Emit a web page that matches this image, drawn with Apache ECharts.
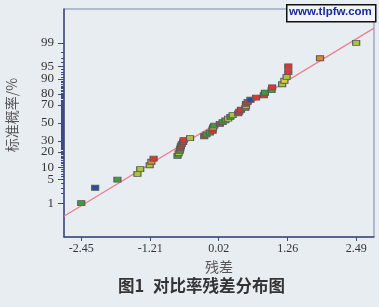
<!DOCTYPE html>
<html>
<head>
<meta charset="utf-8">
<script src="https://cdn.jsdelivr.net/npm/echarts@6/dist/echarts.min.js"></script>
<style>
html,body{margin:0;padding:0;background:#e8edf2;}
#chart{width:379px;height:307px;}
</style>
</head>
<body>
<div id="chart"></div>
<script>
// Residuals (sorted)
const residuals = [-2.45,-2.20,-1.80,-1.44,-1.39,-1.22,-1.19,-1.15,-0.72,-0.70,
  -0.68,-0.67,-0.66,-0.645,-0.62,-0.61,-0.495,-0.24,-0.20,-0.14,
  -0.09,-0.09,-0.08,-0.06,0.04,0.09,0.14,0.19,0.23,0.27,
  0.37,0.39,0.42,0.50,0.51,0.51,0.54,0.59,0.69,0.83,
  0.85,0.97,0.98,1.16,1.20,1.24,1.27,1.27,1.84,2.49];
// Normal probability (%) of each point
const probabilities = [1,3,5,7,9,11,13,15,17,19,21,23,25,27,29,31,33,35,37,39,
  41,43,45,47,49,51,53,55,57,59,61,63,65,67,69,71,73,75,77,79,
  81,83,85,87,89,91,93,95,97,99];
// Colour group of each point
const pointGroups = ['g','b','g','y','y','y','o','r','g','y','g','r','r','r','r','r','y','r','g','g',
  'r','r','k','g','r','g','g','k','g','y','r','r','r','g','y','r','r','b','r','r',
  'g','g','r','y','k','y','r','r','o','y'];
const groupColors = {r:'#e0362c', g:'#3c9e3c', y:'#a9c43c', k:'#d9cf45', o:'#d98a3a', b:'#274f9e'};
// Axis ticks
const xTickLabels = [-2.45, -1.21, 0.02, 1.26, 2.49];
const yTickLabels = [1, 5, 10, 20, 30, 50, 70, 80, 90, 95, 99];
const yMinorTicks = []; for (let p = 1; p <= 99; p++) yMinorTicks.push(p);
// Fitted normal line
const fitMean = 0.0, fitSd = 1.02;
const xMin = -2.76, xMax = 2.81, zLim = 3.31;

function probit(pp) {
  const p = pp / 100;
  const a = [-3.969683028665376e+01, 2.209460984245205e+02, -2.759285104469687e+02, 1.383577518672690e+02, -3.066479806614716e+01, 2.506628277459239e+00];
  const b = [-5.447609879822406e+01, 1.615858368580409e+02, -1.556989798598866e+02, 6.680131188771972e+01, -1.328068155288572e+01];
  const c = [-7.784894002430293e-03, -3.223964580411365e-01, -2.400758277161838e+00, -2.549732539343734e+00, 4.374664141464968e+00, 2.938163982698783e+00];
  const d = [7.784695709041462e-03, 3.224671290700398e-01, 2.445134137142996e+00, 3.754408661907416e+00];
  const pl = 0.02425, ph = 1 - pl;
  let q, r;
  if (p < pl) { q = Math.sqrt(-2 * Math.log(p)); return (((((c[0]*q+c[1])*q+c[2])*q+c[3])*q+c[4])*q+c[5]) / ((((d[0]*q+d[1])*q+d[2])*q+d[3])*q+1); }
  if (p <= ph) { q = p - 0.5; r = q*q; return (((((a[0]*r+a[1])*r+a[2])*r+a[3])*r+a[4])*r+a[5])*q / (((((b[0]*r+b[1])*r+b[2])*r+b[3])*r+b[4])*r+1); }
  q = Math.sqrt(-2 * Math.log(1 - p));
  return -(((((c[0]*q+c[1])*q+c[2])*q+c[3])*q+c[4])*q+c[5]) / ((((d[0]*q+d[1])*q+d[2])*q+d[3])*q+1);
}

const yLabelZ = yTickLabels.map(probit);
const points = residuals.map((x, i) => ({
  value: [x, probit(probabilities[i])],
  itemStyle: { color: groupColors[pointGroups[i]] }
}));
const fitLine = [[xMin, (xMin - fitMean) / fitSd], [xMax, (xMax - fitMean) / fitSd]];

const chart = echarts.init(document.getElementById('chart'), null, { renderer: 'canvas' });
chart.setOption({
  backgroundColor: '#e8edf2',
  animation: false,
  grid: { left: 64, top: 9, right: 5, bottom: 70, containLabel: false, outerBoundsMode: 'none',
    show: true, borderColor: '#7d86ad', borderWidth: 1, backgroundColor: 'transparent' },
  xAxis: {
    type: 'value', min: xMin, max: xMax,
    name: '残差', nameLocation: 'middle', nameGap: 21,
    nameTextStyle: { fontFamily: 'Noto Sans CJK SC', fontSize: 14, color: '#555' },
    axisLine: { onZero: false, lineStyle: { color: '#3d4a7c', width: 1.5 } },
    axisTick: { customValues: xTickLabels, length: 4, lineStyle: { color: '#3d4a7c' } },
    axisLabel: { customValues: xTickLabels, margin: 6, fontFamily: 'Liberation Serif', fontSize: 12, color: '#333',
      formatter: v => { const m = xTickLabels.reduce((a, b) => Math.abs(b - v) < Math.abs(a - v) ? b : a); return m.toFixed(2); } },
    splitLine: { show: false }
  },
  yAxis: [{
    type: 'value', min: -zLim, max: zLim,
    name: '标准概率/%', nameLocation: 'middle', nameGap: 45, nameRotate: 90,
    nameTextStyle: { fontFamily: 'Noto Sans CJK SC', fontSize: 14, color: '#555', padding: [0, 0, 0, 16] },
    axisLine: { onZero: false, lineStyle: { color: '#3d4a7c', width: 1.5 } },
    axisTick: { customValues: yLabelZ, length: 6, lineStyle: { color: '#3d4a7c' } },
    axisLabel: { customValues: yLabelZ, margin: 10, fontFamily: 'Liberation Serif', fontSize: 13, color: '#333',
      formatter: v => { let bi = 0; yLabelZ.forEach((z, i) => { if (Math.abs(z - v) < Math.abs(yLabelZ[bi] - v)) bi = i; }); return String(yTickLabels[bi]); } },
    splitLine: { show: false }
  }, {
    type: 'value', min: -zLim, max: zLim, position: 'left', offset: 0,
    axisLine: { show: false, onZero: false },
    axisTick: { customValues: yMinorTicks.map(probit), length: 3, lineStyle: { color: '#3d4a7c' } },
    axisLabel: { show: false },
    splitLine: { show: false }
  }],
  series: [{
    type: 'line', data: fitLine, symbol: 'none', silent: true,
    lineStyle: { color: '#e97f90', width: 1.3 }, z: 2
  }, {
    type: 'scatter', data: points, symbol: 'rect', symbolSize: [7, 5],
    itemStyle: { borderColor: '#5a5a5a', borderWidth: 1, opacity: 1 }, z: 3
  }],
  graphic: [{
    type: 'rect', left: 286, top: 4, shape: { width: 89, height: 17 },
    style: { fill: '#f2f5f8', stroke: '#111', lineWidth: 1.5 }, z: 10
  }, {
    type: 'text', left: 289, top: 6,
    style: { text: 'www.tlpfw.com', fill: '#1a2a9a', font: 'bold 11.5px "Liberation Sans", Arial' }, z: 11
  }, {
    type: 'text', left: 118, top: 277,
    style: { text: '图1', fill: '#333', font: 'bold 16.5px "Noto Sans CJK SC"' }
  }, {
    type: 'text', left: 153, top: 277,
    style: { text: '对比率残差分布图', fill: '#333', font: 'bold 16.5px "Noto Sans CJK SC"' }
  }]
});
</script>
</body>
</html>
